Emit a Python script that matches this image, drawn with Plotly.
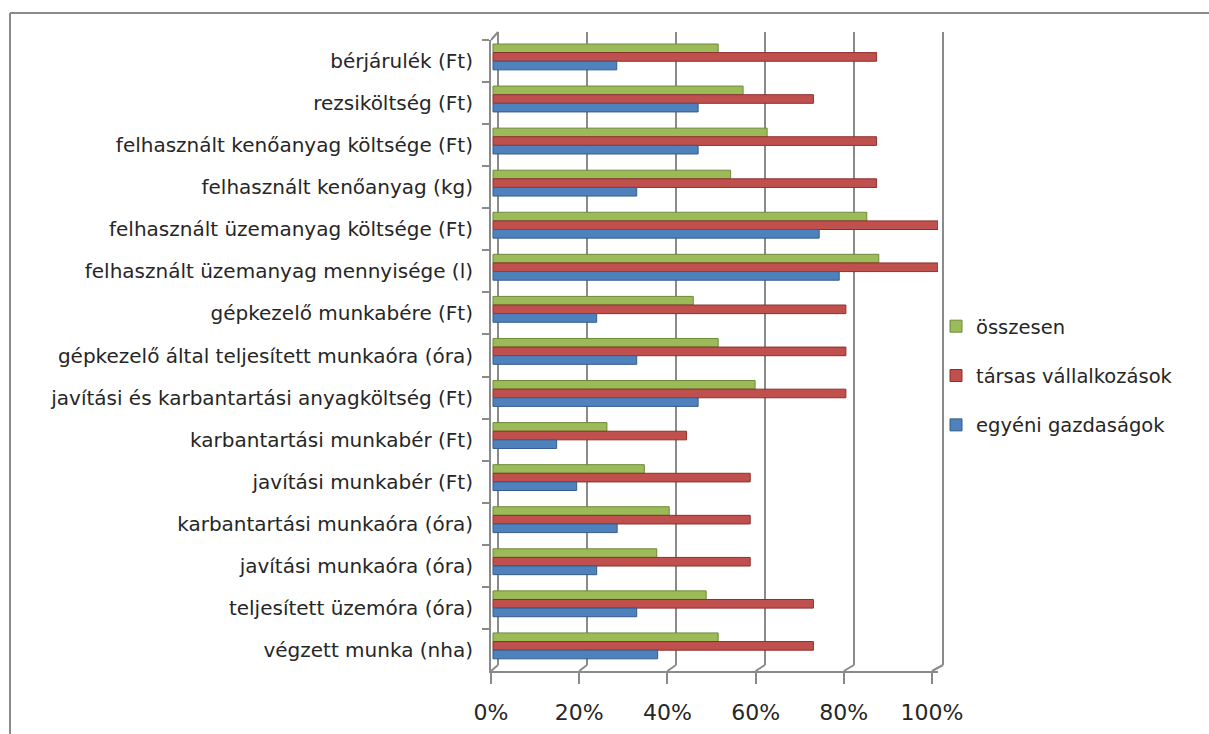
import plotly.graph_objects as go

# Categories, listed top to bottom
categories = [
    "bérjárulék (Ft)",
    "rezsiköltség (Ft)",
    "felhasznált kenőanyag költsége (Ft)",
    "felhasznált kenőanyag (kg)",
    "felhasznált üzemanyag költsége (Ft)",
    "felhasznált üzemanyag mennyisége (l)",
    "gépkezelő munkabére (Ft)",
    "gépkezelő által teljesített munkaóra (óra)",
    "javítási és karbantartási anyagköltség (Ft)",
    "karbantartási munkabér (Ft)",
    "javítási munkabér (Ft)",
    "karbantartási munkaóra (óra)",
    "javítási munkaóra (óra)",
    "teljesített üzemóra (óra)",
    "végzett munka (nha)",
]

# Shares in percent
osszesen = [50.6, 56.2, 61.6, 53.4, 84.0, 86.7, 45.0, 50.6, 58.9, 25.6, 34.0, 39.6, 36.8, 47.9, 50.6]
tarsas = [86.2, 72.0, 86.2, 86.2, 100.0, 100.0, 79.3, 79.3, 79.3, 43.5, 57.8, 57.8, 57.8, 72.0, 72.0]
egyeni = [27.8, 46.1, 46.1, 32.3, 73.3, 77.8, 23.3, 32.3, 46.1, 14.3, 18.8, 27.9, 23.3, 32.3, 37.0]

series_names = ["összesen", "társas vállalkozások", "egyéni gazdaságok"]
tick_values = [0, 20, 40, 60, 80, 100]
tick_labels = ["0%", "20%", "40%", "60%", "80%", "100%"]

W, H = 1209, 734
PLOT_L, PLOT_R, PLOT_T, PLOT_B = 491, 938, 40, 671
X_MIN = -0.449  # small inset so bars start just right of the wall

FONT = "DejaVu Sans"
TEXT = "#262626"
WALL = "#8a8a8a"

fills = ["#9BBB59", "#C0504D", "#4F81BD"]
edges = ["#6f8a3a", "#8c302e", "#345c8c"]
offsets = [-0.405, -0.2, 0.005]
BAR_W = 0.205

fig = go.Figure()
for name, vals, fc, ec, off in zip(series_names, [osszesen, tarsas, egyeni], fills, edges, offsets):
    fig.add_trace(go.Bar(
        name=name, y=categories, x=vals, orientation="h",
        marker=dict(color=fc, line=dict(color=ec, width=1)),
        width=BAR_W, offset=off, legendgroup=name,
        hoverinfo="x+y",
    ))


def px_x(px):
    return (px - PLOT_L) / (PLOT_R - PLOT_L)


def px_y(py):
    return (PLOT_B - py) / (PLOT_B - PLOT_T)


def line(x0, y0, x1, y1, color=WALL, width=2):
    return dict(type="line", xref="paper", yref="paper",
                x0=px_x(x0), y0=px_y(y0), x1=px_x(x1), y1=px_y(y1),
                line=dict(color=color, width=width), layer="below")


# Perspective of the walls: front plane and back wall scales
def front_px(v):
    return 491 + 4.41 * v


def back_px(v):
    return 498 + 4.45 * v


BACK_TOP, BACK_BOT = 32, 665
shapes = []
for v in tick_values:
    bx, fx = back_px(v), front_px(v)
    shapes.append(line(bx, BACK_TOP, bx, BACK_BOT))
    shapes.append(line(bx, BACK_BOT, fx, PLOT_B))
# top edge of the side wall
shapes.append(line(PLOT_L, PLOT_T, back_px(0), BACK_TOP))
# chart frame (left and top)
shapes.append(line(10, 13, W + 5, 13, color="#8a8a8a", width=2))
shapes.append(line(10, 13, 10, H + 5, color="#8a8a8a", width=2))

fig.update_layout(
    width=W, height=H,
    margin=dict(l=PLOT_L, r=W - PLOT_R, t=PLOT_T, b=H - PLOT_B, pad=0,
                autoexpand=False),
    paper_bgcolor="white", plot_bgcolor="rgba(0,0,0,0)",
    barmode="group",
    font=dict(family=FONT, color=TEXT),
    shapes=shapes,
    showlegend=True,
    legend=dict(
        xref="container", yref="container",
        x=936 / W, y=1 - 307 / H, xanchor="left", yanchor="top",
        font=dict(size=19.5, family=FONT, color=TEXT),
        traceorder="grouped", tracegroupgap=21,
        bgcolor="rgba(0,0,0,0)",
    ),
    xaxis=dict(
        range=[X_MIN, 100], showgrid=False, zeroline=False,
        showticklabels=False, ticks="", showline=False, fixedrange=True,
        automargin=False,
    ),
    xaxis2=dict(
        overlaying="x", anchor="y", side="bottom",
        range=[0, (PLOT_R - PLOT_L) / 4.41],
        tickmode="array", tickvals=tick_values, ticktext=tick_labels,
        ticks="outside", ticklen=11, tickwidth=2, tickcolor=WALL,
        showline=True, linecolor=WALL, linewidth=2,
        showgrid=False, zeroline=False, automargin=False,
        tickfont=dict(size=22, family=FONT, color=TEXT),
        ticklabelstandoff=10,
    ),
    yaxis=dict(
        autorange="reversed", type="category",
        tickson="boundaries", ticks="outside", ticklen=7, tickwidth=2,
        tickcolor=WALL, showline=True, linecolor=WALL, linewidth=2,
        showgrid=False, zeroline=False, automargin=False,
        tickfont=dict(size=20, family=FONT, color=TEXT),
        ticklabelstandoff=12,
    ),
)

# keep the front-plane scale axis drawn
fig.add_trace(go.Scatter(x=[None], y=[None], xaxis="x2", yaxis="y",
                         showlegend=False, hoverinfo="skip"))

fig.write_html("out.html")
